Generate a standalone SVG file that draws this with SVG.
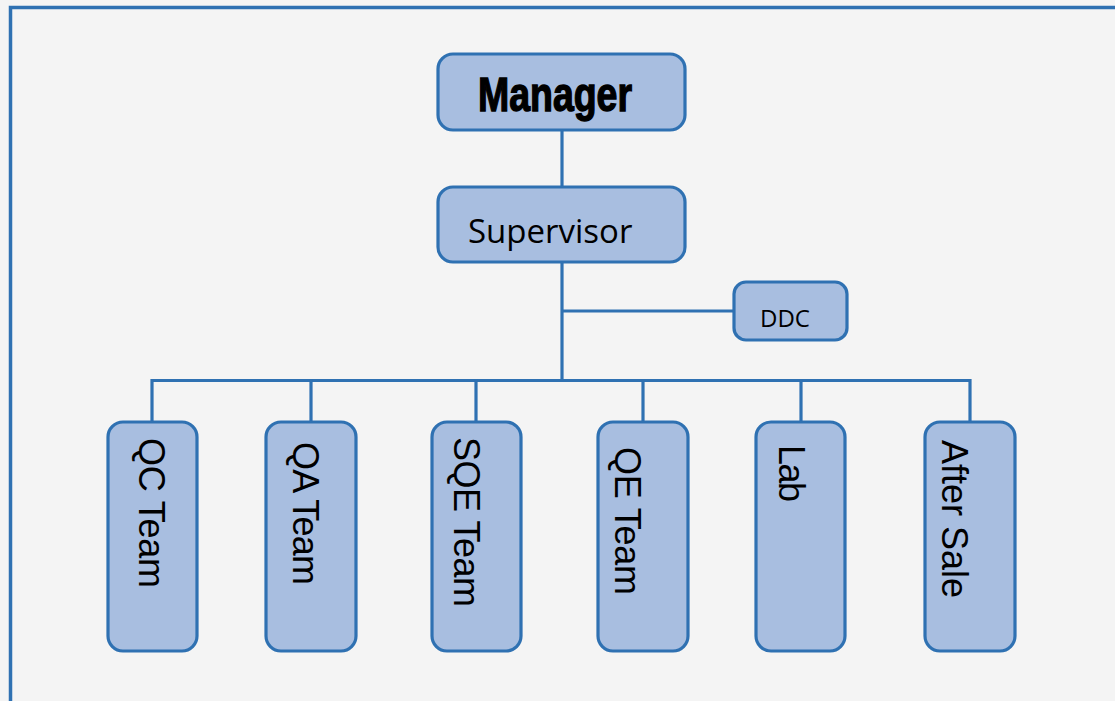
<svg xmlns="http://www.w3.org/2000/svg" width="1115" height="701" viewBox="0 0 1115 701">
<style>
.node{fill:#A8BEE0;stroke:#2F71B2;stroke-width:3.2}
.conn{fill:none;stroke:#2F71B2;stroke-width:3.2}
.vt{font-family:"Liberation Sans",Arial,sans-serif;font-size:36px;fill:#000}
.st{font-family:"Open Sans","Noto Sans",sans-serif;fill:#000}
</style>
<rect x="0" y="0" width="1115" height="701" fill="#F4F4F4"/>
<path d="M10.5 701 V7.5 H1115" fill="none" stroke="#2F71B2" stroke-width="3.5"/>
<g id="connectors">
<path class="conn" d="M562 130 V187"/>
<path class="conn" d="M562 262 V381"/>
<path class="conn" d="M562 311 H734"/>
<path class="conn" d="M152 380.5 H970"/>
<path class="conn" d="M152 379 V422"/>
<path class="conn" d="M311 379 V422"/>
<path class="conn" d="M476 379 V422"/>
<path class="conn" d="M643 379 V422"/>
<path class="conn" d="M801 379 V422"/>
<path class="conn" d="M970 379 V422"/>
</g>
<g id="manager">
<rect class="node" x="438" y="54" width="247" height="76" rx="15"/>
<text x="478" y="111" font-family="'Liberation Sans Narrow','Liberation Sans',sans-serif" font-weight="bold" font-size="48" stroke="#000" stroke-width="1.4" textLength="154" lengthAdjust="spacingAndGlyphs">Manager</text>
</g>
<g id="supervisor">
<rect class="node" x="438" y="187" width="247" height="75" rx="15"/>
<text class="st" x="468" y="243" font-size="33">Supervisor</text>
</g>
<g id="ddc">
<rect class="node" x="734" y="282" width="113" height="58" rx="12"/>
<text class="st" x="760" y="327" font-size="24">DDC</text>
</g>
<g id="qc">
<rect class="node" x="108" y="422" width="89" height="229" rx="15"/>
<text class="vt" transform="translate(139 438) rotate(90)" textLength="150">QC Team</text>
</g>
<g id="qa">
<rect class="node" x="266" y="422" width="90" height="229" rx="15"/>
<text class="vt" transform="translate(293 442) rotate(90)" textLength="143">QA Team</text>
</g>
<g id="sqe">
<rect class="node" x="432" y="422" width="89" height="229" rx="15"/>
<text class="vt" transform="translate(454 437) rotate(90)" textLength="170">SQE Team</text>
</g>
<g id="qe">
<rect class="node" x="598" y="422" width="90" height="229" rx="15"/>
<text class="vt" transform="translate(615 447) rotate(90)" textLength="148">QE Team</text>
</g>
<g id="lab">
<rect class="node" x="756" y="422" width="89" height="229" rx="15"/>
<text class="vt" transform="translate(779 445) rotate(90)" textLength="57">Lab</text>
</g>
<g id="aftersale">
<rect class="node" x="925" y="422" width="90" height="229" rx="15"/>
<text class="vt" transform="translate(942 440) rotate(90)" textLength="158">After Sale</text>
</g>
</svg>
